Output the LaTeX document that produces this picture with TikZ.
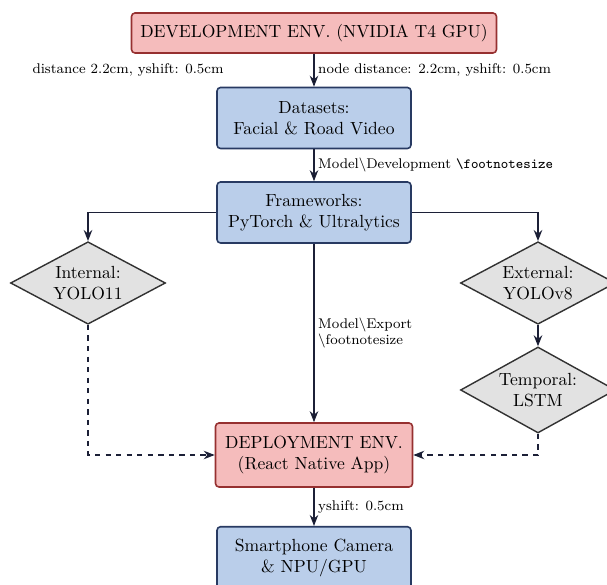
\documentclass[tikz,border=0pt]{standalone}
\usetikzlibrary{shapes.geometric,arrows.meta}
\definecolor{envfill}{RGB}{245,188,188}
\definecolor{envline}{RGB}{150,48,48}
\definecolor{stagefill}{RGB}{186,206,234}
\definecolor{stageline}{RGB}{40,58,98}
\definecolor{modelfill}{RGB}{226,226,226}
\definecolor{modelline}{RGB}{50,50,50}
\definecolor{flowline}{RGB}{28,32,55}
\begin{document}
\begin{tikzpicture}[>={Stealth[length=2.2mm,width=1.7mm]},
	envbox/.style={draw=envline, fill=envfill, rounded corners=2pt, line width=0.9pt, align=center},
	stagebox/.style={draw=stageline, fill=stagefill, rounded corners=2pt, line width=0.9pt, align=center, minimum width=3.88cm, minimum height=1.22cm},
	modelnode/.style={draw=modelline, fill=modelfill, diamond, shape aspect=1.9, inner sep=1pt, line width=0.8pt, align=center, minimum width=3.1cm, minimum height=1.65cm},
	lbl/.style={font=\footnotesize, inner sep=2pt},
	flow/.style={draw=flowline, line width=0.8pt}]
	\useasboundingbox (0,0) rectangle (12.14,-11.7);
			\node	(dev) at (6.28,-0.66) [envbox, minimum width=7.3cm, minimum height=0.8cm] {DEVELOPMENT ENV. (NVIDIA T4 GPU)};
			\node	(data) at (6.28,-2.36) [stagebox] {Datasets:\\Facial \& Road Video};
			\node	(frame) at (6.28,-4.25) [stagebox] {Frameworks:\\PyTorch \& Ultralytics};
			\node	(int) at (1.76,-5.66) [modelnode] {Internal:\\YOLO11};
			\node	(ext) at (10.76,-5.66) [modelnode] {External:\\YOLOv8};
			\node	(temp) at (10.76,-7.8) [modelnode, minimum height=1.72cm] {Temporal:\\LSTM};
			\node	(deploy) at (6.28,-9.1) [envbox, minimum width=3.94cm, minimum height=1.28cm] {DEPLOYMENT ENV.\\(React Native App)};
			\node	(phone) at (6.28,-11.16) [stagebox, minimum height=1.25cm] {Smartphone Camera\\\& NPU/GPU};
			\node	(distlbl) at (2.56,-1.4) [lbl] {distance 2.2cm, yshift: 0.5cm};

			\draw [flow]
			(dev) edge[->] node[lbl, right] {node distance: 2.2cm, yshift: 0.5cm} (data)
			(data) edge[->] node[lbl, right] {Model\textbackslash Development \texttt{\textbackslash footnotesize}} (frame)
			(frame) edge[->] node[lbl, right, align=left] {Model\textbackslash Export\\\textbackslash footnotesize} (deploy)
			(ext) edge[->] (temp)
			(deploy) edge[->] node[lbl, right] {yshift: 0.5cm} (phone)
			;
			\draw [flow, ->] (frame.west) -| (int.north);
			\draw [flow, ->] (frame.east) -| (ext.north);
			\draw [flow, dashed, ->] (int.south) |- (deploy.west);
			\draw [flow, dashed, ->] (temp.south) |- (deploy.east);
		\end{tikzpicture}
\end{document}
